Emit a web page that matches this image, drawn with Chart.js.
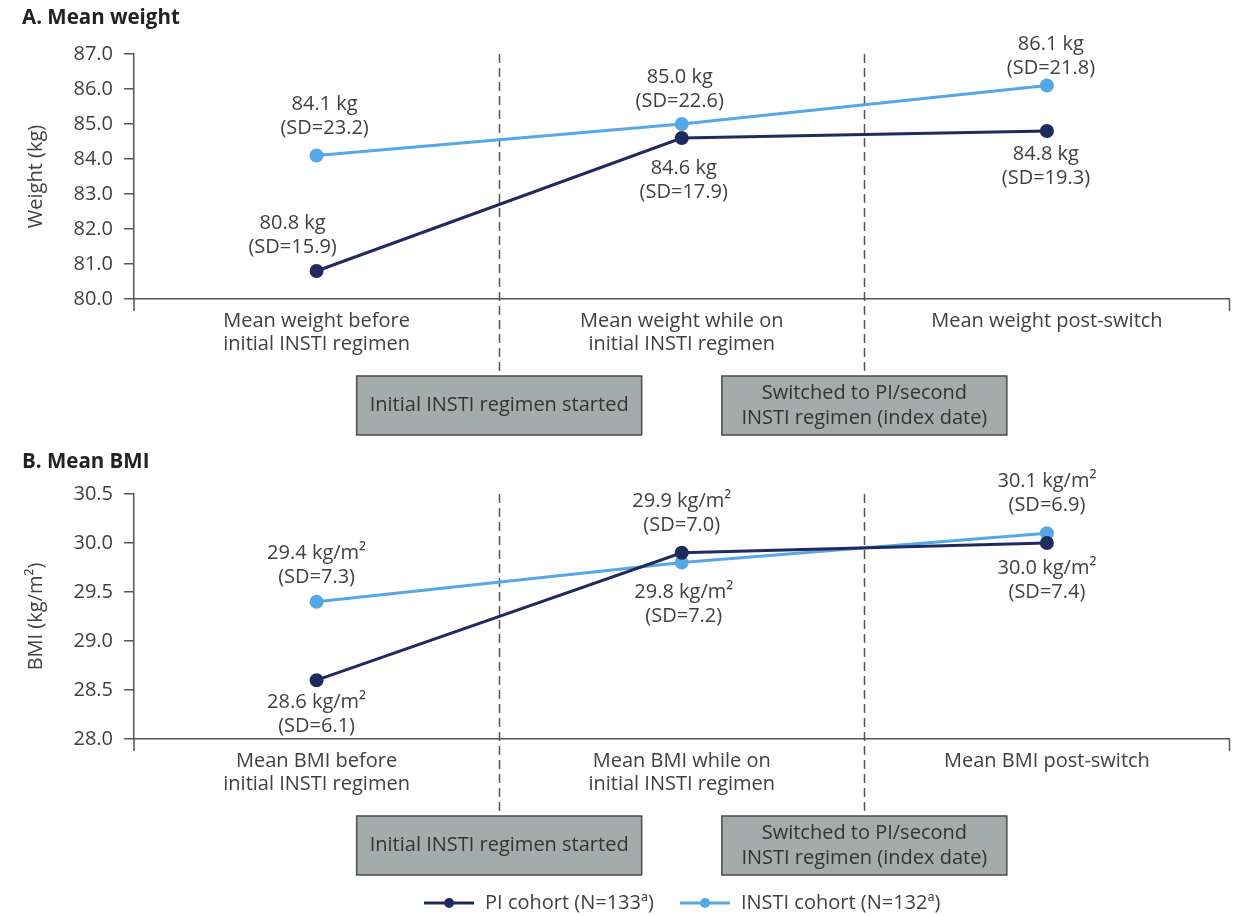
<!DOCTYPE html>
<html>
<head>
<meta charset="utf-8">
<script src="https://cdn.jsdelivr.net/npm/chart.js@4.4.0/dist/chart.umd.min.js"></script>
<style>
  html, body { margin: 0; padding: 0; background: #ffffff; overflow: hidden; }
  #weightChart { position: absolute; left: 0; top: 0; }
  #bmiChart { position: absolute; left: 0; top: 445px; }
</style>
</head>
<body>
<canvas id="weightChart" width="1238" height="445"></canvas>
<canvas id="bmiChart" width="1238" height="478"></canvas>
<script>
// ---- data ----
const weightCategories = [
  ['Mean weight before', 'initial INSTI regimen'],
  ['Mean weight while on', 'initial INSTI regimen'],
  ['Mean weight post-switch']
];
const bmiCategories = [
  ['Mean BMI before', 'initial INSTI regimen'],
  ['Mean BMI while on', 'initial INSTI regimen'],
  ['Mean BMI post-switch']
];
const seriesNames = ['PI cohort (N=133ª)', 'INSTI cohort (N=132ª)'];

const weightPI = [80.8, 84.6, 84.8];
const weightPISD = [15.9, 17.9, 19.3];
const weightINSTI = [84.1, 85.0, 86.1];
const weightINSTISD = [23.2, 22.6, 21.8];

const bmiPI = [28.6, 29.9, 30.0];
const bmiPISD = [6.1, 7.0, 7.4];
const bmiINSTI = [29.4, 29.8, 30.1];
const bmiINSTISD = [7.3, 7.2, 6.9];

const weightTicks = [80.0, 81.0, 82.0, 83.0, 84.0, 85.0, 86.0, 87.0];
const bmiTicks = [28.0, 28.5, 29.0, 29.5, 30.0, 30.5];

const milestoneText = [
  ['Initial INSTI regimen started'],
  ['Switched to PI/second', 'INSTI regimen (index date)']
];

// ---- styling ----
const FONT = "'Open Sans', sans-serif";
const TEXT = '#404040';
const AXIS = '#555555';
const PI_COLOR = '#1f2b5e';
const INSTI_COLOR = '#55a7e5';

Chart.defaults.font.family = FONT;
Chart.defaults.color = TEXT;
Chart.defaults.animation = false;

// where each value label sits relative to its point: [dx, dy of first line]
const weightPlacePI = [[-24, -48], [2, 30], [-1, 23]];
const weightPlaceINSTI = [[8, -51], [-2, -47], [4, -41]];
const bmiPlacePI = [[0, 22], [0, -52], [0, 25]];
const bmiPlaceINSTI = [[0, -49], [2, 30], [0, -52]];

// legend swatch: short line with a dot in the middle
function legendMarker(color) {
  const c = document.createElement('canvas');
  c.width = 50; c.height = 14;
  const g = c.getContext('2d');
  g.strokeStyle = color; g.lineWidth = 3;
  g.beginPath(); g.moveTo(0, 7); g.lineTo(50, 7); g.stroke();
  g.fillStyle = color;
  g.beginPath(); g.arc(25, 7, 5, 0, Math.PI * 2); g.fill();
  return c;
}
const legendMarkers = [legendMarker(PI_COLOR), legendMarker(INSTI_COLOR)];

// mean + SD annotations next to every point
const valueLabels = {
  id: 'valueLabels',
  afterDatasetsDraw(chart, args, opts) {
    const ctx = chart.ctx;
    ctx.save();
    ctx.font = `20px ${FONT}`;
    ctx.fillStyle = TEXT;
    ctx.textAlign = 'center';
    ctx.textBaseline = 'middle';
    chart.data.datasets.forEach((ds, i) => {
      chart.getDatasetMeta(i).data.forEach((pt, j) => {
        const [dx, dy] = ds.labelPlace[j];
        const lines = [`${ds.data[j].toFixed(1)} ${opts.unit}`, `(SD=${ds.sd[j].toFixed(1)})`];
        lines.forEach((t, k) => ctx.fillText(t, pt.x + dx, pt.y + dy + k * opts.lineGap));
      });
    });
    ctx.restore();
  }
};

// dashed separators between periods, the event boxes beneath them and axis stubs
const milestones = {
  id: 'milestones',
  beforeDatasetsDraw(chart, args, opts) {
    const { ctx, chartArea, scales: { x } } = chart;
    ctx.save();
    ctx.strokeStyle = AXIS;
    ctx.lineWidth = 1.5;
    ctx.setLineDash([9, 5]);
    for (let i = 0; i < x.ticks.length - 1; i++) {
      const bx = Math.round((x.getPixelForTick(i) + x.getPixelForTick(i + 1)) / 2) + 0.5;
      ctx.beginPath();
      ctx.moveTo(bx, chartArea.top);
      ctx.lineTo(bx, chartArea.bottom + opts.boxGap);
      ctx.stroke();
    }
    ctx.restore();
  },
  afterDraw(chart, args, opts) {
    const { ctx, chartArea, scales: { x } } = chart;
    ctx.save();
    ctx.strokeStyle = AXIS;
    ctx.lineWidth = 1.5;
    ctx.beginPath();
    ctx.moveTo(chartArea.left, chartArea.bottom);
    ctx.lineTo(chartArea.left, chartArea.bottom + 12);
    ctx.moveTo(chartArea.right, chartArea.bottom);
    ctx.lineTo(chartArea.right, chartArea.bottom + 12);
    ctx.stroke();

    ctx.font = `20px ${FONT}`;
    ctx.textAlign = 'center';
    ctx.textBaseline = 'middle';
    opts.events.forEach((lines, i) => {
      const bx = (x.getPixelForTick(i) + x.getPixelForTick(i + 1)) / 2;
      const top = chartArea.bottom + opts.boxGap;
      const left = bx - opts.boxW / 2;
      ctx.fillStyle = '#a4abaa';
      ctx.fillRect(left, top, opts.boxW, opts.boxH);
      ctx.strokeStyle = '#4a4a4a';
      ctx.lineWidth = 1.5;
      ctx.strokeRect(left, top, opts.boxW, opts.boxH);
      ctx.fillStyle = '#333333';
      lines.forEach((t, k) => {
        ctx.fillText(t, bx, top + opts.boxH / 2 + (k - (lines.length - 1) / 2) * 25);
      });
    });
    ctx.restore();
  }
};

function seriesDataset(name, values, sd, place, color) {
  return {
    label: name,
    data: values,
    sd: sd,
    labelPlace: place,
    borderColor: color,
    backgroundColor: color,
    pointBackgroundColor: color,
    pointBorderColor: color,
    borderWidth: 3,
    pointRadius: 5.5,
    pointHoverRadius: 5.5,
    tension: 0
  };
}

function panelOptions(p) {
  return {
    responsive: false,
    layout: { padding: { left: 22, right: 5, top: 0, bottom: 0 } },
    scales: {
      x: {
        offset: true,
        grid: { display: false, drawTicks: false },
        border: { display: true, color: AXIS, width: 1.5 },
        ticks: { font: { size: 20, lineHeight: 1.18 }, color: TEXT, padding: 10, maxRotation: 0, autoSkip: false },
        afterFit: s => { s.height = p.xHeight; }
      },
      y: {
        min: p.ticks[0],
        max: p.ticks[p.ticks.length - 1],
        afterBuildTicks: s => { s.ticks = p.ticks.map(v => ({ value: v })); },
        ticks: { callback: v => Number(v).toFixed(1), font: { size: 20 }, color: TEXT, padding: 11 },
        grid: { drawOnChartArea: false, drawTicks: true, tickLength: 10, color: AXIS, lineWidth: 1.5 },
        border: { display: true, color: AXIS, width: 1.5 },
        title: { display: true, text: p.yTitle, font: { size: 20 }, color: TEXT, padding: { top: 2, bottom: 0 } },
        afterFit: s => { s.width = 112; }
      }
    },
    plugins: {
      title: {
        display: true, text: p.title, align: 'start', color: '#222222',
        font: { size: 20.5, weight: 'bold' }, padding: p.titlePad
      },
      tooltip: { enabled: false },
      legend: p.legend,
      valueLabels: { unit: p.unit, lineGap: 24 },
      milestones: { events: milestoneText, boxGap: 77, boxW: 285, boxH: 59 }
    }
  };
}

new Chart(document.getElementById('weightChart'), {
  type: 'line',
  data: {
    labels: weightCategories,
    datasets: [
      seriesDataset(seriesNames[0], weightPI, weightPISD, weightPlacePI, PI_COLOR),
      seriesDataset(seriesNames[1], weightINSTI, weightINSTISD, weightPlaceINSTI, INSTI_COLOR)
    ]
  },
  options: panelOptions({
    title: 'A. Mean weight', titlePad: { top: 5.7, bottom: 23.7 },
    yTitle: 'Weight (kg)', unit: 'kg', ticks: weightTicks, xHeight: 146,
    legend: { display: false }
  }),
  plugins: [valueLabels, milestones]
});

new Chart(document.getElementById('bmiChart'), {
  type: 'line',
  data: {
    labels: bmiCategories,
    datasets: [
      seriesDataset(seriesNames[0], bmiPI, bmiPISD, bmiPlacePI, PI_COLOR),
      seriesDataset(seriesNames[1], bmiINSTI, bmiINSTISD, bmiPlaceINSTI, INSTI_COLOR)
    ]
  },
  options: panelOptions({
    title: 'B. Mean BMI', titlePad: { top: 4.7, bottom: 19.7 },
    yTitle: 'BMI (kg/m²)', unit: 'kg/m²', ticks: bmiTicks, xHeight: 129,
    legend: {
      display: true,
      position: 'bottom',
      fullSize: false,
      labels: {
        usePointStyle: true,
        pointStyleWidth: 52,
        padding: 25,
        color: TEXT,
        font: { size: 20 },
        generateLabels: chart => Chart.defaults.plugins.legend.labels.generateLabels(chart)
          .map(item => Object.assign(item, { pointStyle: legendMarkers[item.datasetIndex] }))
      }
    }
  }),
  plugins: [valueLabels, milestones]
});
</script>
</body>
</html>
